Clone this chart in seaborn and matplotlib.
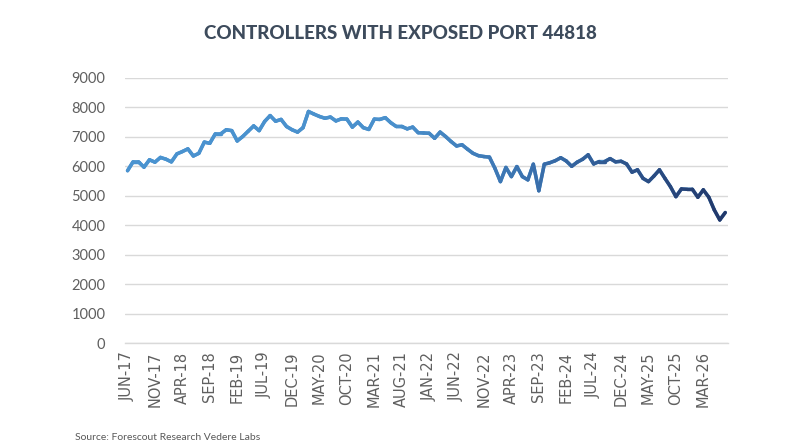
import numpy as np
import pandas as pd
import matplotlib
matplotlib.use("Agg")
import matplotlib.pyplot as plt
import seaborn as sns
from matplotlib.collections import LineCollection
from matplotlib.colors import LinearSegmentedColormap

# 每月暴露设备数 (JUN-17 起, 共110个月)
controllers = [
    5850, 6150, 6150, 5970, 6220, 6140, 6300, 6240, 6150, 6420,
    6500, 6590, 6350, 6440, 6820, 6780, 7100, 7100, 7240, 7210,
    6860, 7010, 7190, 7370, 7210, 7520, 7720, 7530, 7590, 7350,
    7240, 7160, 7310, 7860, 7770, 7690, 7630, 7670, 7540, 7610,
    7600, 7330, 7500, 7310, 7250, 7600, 7590, 7650, 7480, 7350,
    7350, 7270, 7330, 7140, 7130, 7120, 6950, 7160, 7010, 6840,
    6690, 6730, 6580, 6440, 6360, 6330, 6310, 5930, 5480, 5960,
    5650, 5990, 5650, 5540, 6070, 5170, 6070, 6120, 6190, 6290,
    6180, 6000, 6140, 6240, 6390, 6080, 6160, 6160, 6260, 6150,
    6170, 6080, 5800, 5880, 5590, 5480, 5670, 5880, 5590, 5310,
    4970, 5230, 5220, 5220, 4950, 5200, 4950, 4520, 4180, 4430,
]

tick_labels = [
    "JUN-17", "NOV-17", "APR-18", "SEP-18", "FEB-19", "JUL-19", "DEC-19",
    "MAY-20", "OCT-20", "MAR-21", "AUG-21", "JAN-22", "JUN-22", "NOV-22",
    "APR-23", "SEP-23", "FEB-24", "JUL-24", "DEC-24", "MAY-25", "OCT-25",
    "MAR-26",
]
y_ticks = [0, 1000, 2000, 3000, 4000, 5000, 6000, 7000, 8000, 9000]

df = pd.DataFrame({"month": np.arange(len(controllers)), "count": controllers})

sns.set_style("white")
plt.rcParams['font.family'] = ['Lato', 'DejaVu Sans']

fig = plt.figure(figsize=(8, 4.45), dpi=100)
ax = fig.add_axes([0.156, 0.229, 0.754, 0.596])

grid_color = "#d9d9d9"
text_gray = "#5f5f5f"

sns.lineplot(data=df, x="month", y="count", ax=ax, color="#4a92cf",
             linewidth=2.5, zorder=2)

# 渐变色线段
cmap = LinearSegmentedColormap.from_list(
    "blues", [(0.0, "#4a93d0"), (0.45, "#4a90cc"), (0.68, "#3a70ad"), (1.0, "#22386a")])
xs = df["month"].to_numpy(dtype=float)
ys = df["count"].to_numpy(dtype=float)
pts = np.column_stack([xs, ys]).reshape(-1, 1, 2)
segs = np.concatenate([pts[:-1], pts[1:]], axis=1)
lc = LineCollection(segs, cmap=cmap, linewidth=2.5, capstyle="round", joinstyle="round", zorder=3)
lc.set_array(np.linspace(0, 1, len(segs)))
ax.add_collection(lc)

ax.set_xlim(-0.5, len(controllers) - 0.5)
ax.set_ylim(0, 9000)
ax.set_yticks(y_ticks)
ax.set_yticklabels([str(v) for v in y_ticks], color=text_gray, fontsize=10.5)
ax.yaxis.grid(True, color=grid_color, linewidth=1.0)
ax.set_axisbelow(True)

# 类别边界刻度线 + 标签位于类别中心
label_pos = np.arange(0, len(controllers), 5)[:len(tick_labels)]
ax.set_xticks(np.append(np.arange(-0.5, len(controllers), 5), len(controllers) - 0.5))
ax.set_xticklabels([])
ax.set_xticks(label_pos, minor=True)
ax.set_xticklabels(tick_labels, minor=True, rotation=90, color=text_gray,
                   fontsize=10.5, fontfamily="DejaVu Sans")
ax.tick_params(axis="x", which="major", length=4, color=grid_color, width=1)
ax.tick_params(axis="x", which="minor", length=0, pad=6)
ax.tick_params(axis="y", length=0, pad=14)

ax.set_xlabel("")
ax.set_ylabel("")
for s in ["top", "right", "left"]:
    ax.spines[s].set_visible(False)
ax.spines["bottom"].set_color(grid_color)
ax.spines["bottom"].set_linewidth(1.0)

fig.text(0.5, 0.925, "CONTROLLERS WITH EXPOSED PORT 44818", ha="center", va="center",
         fontsize=13.5, fontweight="black", color="#3d4b5c")
fig.text(0.094, 0.006, "Source: Forescout Research Vedere Labs", ha="left", va="bottom",
         fontsize=7.5, color="#595959")

fig.savefig("out.png", dpi=100)
